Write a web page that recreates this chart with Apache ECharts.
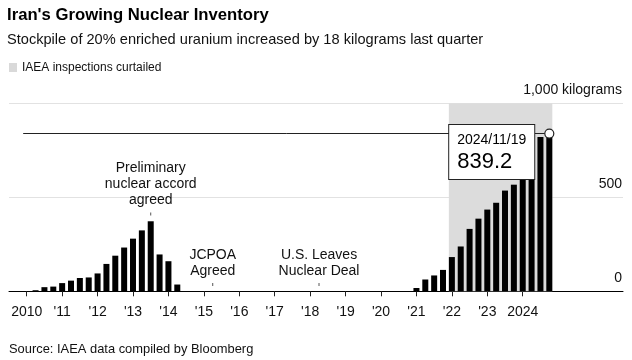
<!DOCTYPE html>
<html>
<head>
<meta charset="utf-8">
<script src="https://cdn.jsdelivr.net/npm/echarts@6/dist/echarts.min.js"></script>
<style>
html,body{margin:0;padding:0;background:#fff;}
#chart{width:632px;height:360px;}
</style>
</head>
<body>
<div id="chart"></div>
<script>
// ---- data ----
var titleText = "Iran's Growing Nuclear Inventory";
var subtitleText = "Stockpile of 20% enriched uranium increased by 18 kilograms last quarter";
var legendText = "IAEA inspections curtailed";
var sourceText = "Source: IAEA data compiled by Bloomberg";

// IAEA report dates (decimal years)
var reportDates = [
  2010.25, 2010.5, 2010.75, 2011, 2011.25, 2011.5, 2011.75, 2012, 2012.25, 2012.5,
  2012.75, 2013, 2013.25, 2013.5, 2013.75, 2014, 2014.25,
  2014.5, 2014.75, 2015, 2015.25, 2015.5, 2015.75, 2016, 2016.25, 2016.5, 2016.75,
  2017, 2017.25, 2017.5, 2017.75, 2018, 2018.25, 2018.5, 2018.75, 2019, 2019.25,
  2019.5, 2019.75, 2020, 2020.25, 2020.5, 2020.75,
  2021, 2021.25, 2021.5, 2021.75, 2022, 2022.25, 2022.5, 2022.75, 2023, 2023.25,
  2023.5, 2023.75, 2024, 2024.25, 2024.5, 2024.75
];
// Stockpile of 20% enriched uranium, kilograms
var stockpileKg = [
  5.7, 22, 25, 43.6, 56.7, 70.8, 73.7, 95, 145.6, 189.4,
  232.8, 280, 324, 372.5, 196, 160, 36,
  0, 0, 0, 0, 0, 0, 0, 0, 0, 0,
  0, 0, 0, 0, 0, 0, 0, 0, 0, 0,
  0, 0, 0, 0, 0, 0,
  17.6, 62.8, 84.3, 113.8, 182.1, 238.4, 331.9, 386.4, 434.7, 470.9,
  535.8, 567.1, 712.2, 751.8, 821, 839.2
];

var yearTicks = [2010, 2011, 2012, 2013, 2014, 2015, 2016, 2017, 2018, 2019, 2020, 2021, 2022, 2023, 2024];
var yearLabels = ['2010', "'11", "'12", "'13", "'14", "'15", "'16", "'17", "'18", "'19", "'20", "'21", "'22", "'23", '2024'];
var valueTicks = [0, 500, 1000];
var valueLabels = ['0', '500', '1,000 kilograms'];

var xRange = [2009.5, 2026.83];
var curtailedRange = [2021.915, 2024.835];
var latestDate = '2024/11/19';
var latestValue = 839.2;
var latestX = 2024.75;
var refLineStartX = 2009.9;

var events = [
  { x: 2013.5, y: 411, text: 'Preliminary\nnuclear accord\nagreed' },
  { x: 2015.25, y: 36, text: 'JCPOA\nAgreed' },
  { x: 2018.25, y: 36, text: 'U.S. Leaves\nNuclear Deal' }
];

// ---- chart ----
var FONT = '"Liberation Sans", Arial, Helvetica, sans-serif';
var chart = echarts.init(document.getElementById('chart'), null, { renderer: 'canvas' });

var barData = reportDates.map(function (d, i) { return [d, stockpileKg[i]]; });

var option = {
  animation: false,
  backgroundColor: '#fff',
  textStyle: { fontFamily: FONT },
  title: [
    { text: titleText, left: 7, top: 5, padding: 0, textStyle: { fontFamily: FONT, fontSize: 16.7, fontWeight: 'bold', color: '#000', lineHeight: 20 } },
    { text: subtitleText, left: 7, top: 31, padding: 0, textStyle: { fontFamily: FONT, fontSize: 14.6, fontWeight: 'normal', color: '#111', lineHeight: 18 } },
    { text: sourceText, left: 9, top: 341, padding: 0, textStyle: { fontFamily: FONT, fontSize: 12.9, fontWeight: 'normal', color: '#111', lineHeight: 16 } }
  ],
  legend: {
    data: [legendText],
    left: 9, top: 61.5, padding: 0,
    icon: 'rect', itemWidth: 8, itemHeight: 9, itemGap: 10,
    textStyle: { fontFamily: FONT, fontSize: 12, color: '#111', padding: [0, 0, 0, 0] },
    selectedMode: false
  },
  grid: { left: 9, right: 9, top: 103.3, bottom: 68.7, containLabel: false },
  xAxis: {
    type: 'value',
    min: xRange[0], max: xRange[1],
    splitLine: { show: false },
    axisLine: { show: true, onZero: false, lineStyle: { color: '#000', width: 1 } },
    axisTick: { show: true, customValues: yearTicks, length: 5, lineStyle: { color: '#222', width: 1 } },
    axisLabel: {
      show: true, customValues: yearTicks, margin: 14,
      fontFamily: FONT, fontSize: 14, color: '#111',
      formatter: function (v) {
        var idx = yearTicks.indexOf(Math.round(v));
        return idx >= 0 ? yearLabels[idx] : '';
      }
    }
  },
  yAxis: {
    type: 'value', position: 'right',
    min: 0, max: 1000, interval: 500,
    axisLine: { show: false },
    axisTick: { show: false },
    splitLine: { show: true, lineStyle: { color: '#e2e2e2', width: 1 } },
    axisLabel: {
      inside: true, margin: 1,
      fontFamily: FONT, fontSize: 14, color: '#111',
      verticalAlign: 'bottom', lineHeight: 16, padding: [0, 0, 5, 0],
      formatter: function (v) {
        var idx = valueTicks.indexOf(v);
        return idx >= 0 ? valueLabels[idx] : '';
      }
    }
  },
  series: [
    {
      name: legendText,
      type: 'line',
      data: [],
      itemStyle: { color: '#d9d9d9' },
      lineStyle: { color: '#d9d9d9' },
      markArea: {
        silent: true,
        z: 1,
        itemStyle: { color: '#dcdcdc', opacity: 1 },
        data: [[{ xAxis: curtailedRange[0] }, { xAxis: curtailedRange[1] }]]
      }
    },
    {
      name: 'Stockpile',
      type: 'bar',
      data: barData,
      barWidth: 6,
      z: 3,
      itemStyle: { color: '#000' },
      markLine: {
        silent: true,
        z: 4,
        symbol: ['none', 'none'],
        label: { show: false },
        lineStyle: { color: '#222', width: 1, type: 'solid' },
        data: [[{ coord: [refLineStartX, latestValue] }, { coord: [latestX, latestValue] }]]
      }
    },
    {
      name: 'annotations',
      type: 'scatter',
      data: [],
      z: 6,
      markPoint: {
        silent: true,
        z: 6,
        data: events.map(function (e) {
          return {
            coord: [e.x, e.y],
            symbol: 'rect',
            symbolSize: [1, 3],
            itemStyle: { color: '#555' },
            label: {
              show: true, position: 'top', distance: 4,
              formatter: e.text,
              fontFamily: FONT, fontSize: 14, lineHeight: 16, color: '#111', align: 'center'
            }
          };
        }).concat([{
          coord: [latestX, latestValue],
          symbol: 'circle',
          symbolSize: 9,
          itemStyle: { color: '#fff', borderColor: '#222', borderWidth: 1.2 },
          label: {
            show: true, position: [-95, -3.5],
            formatter: '{d|' + latestDate + '}\n{v|' + latestValue.toFixed(1) + '}',
            backgroundColor: '#fff', borderColor: '#222', borderWidth: 1,
            padding: [5, 8, 5, 8],
            align: 'left', verticalAlign: 'top',
            rich: {
              d: { fontFamily: FONT, fontSize: 14, lineHeight: 20, color: '#000' },
              v: { fontFamily: FONT, fontSize: 22, lineHeight: 24, color: '#000' }
            }
          }
        }])
      }
    }
  ]
};
chart.setOption(option);
</script>
</body>
</html>
